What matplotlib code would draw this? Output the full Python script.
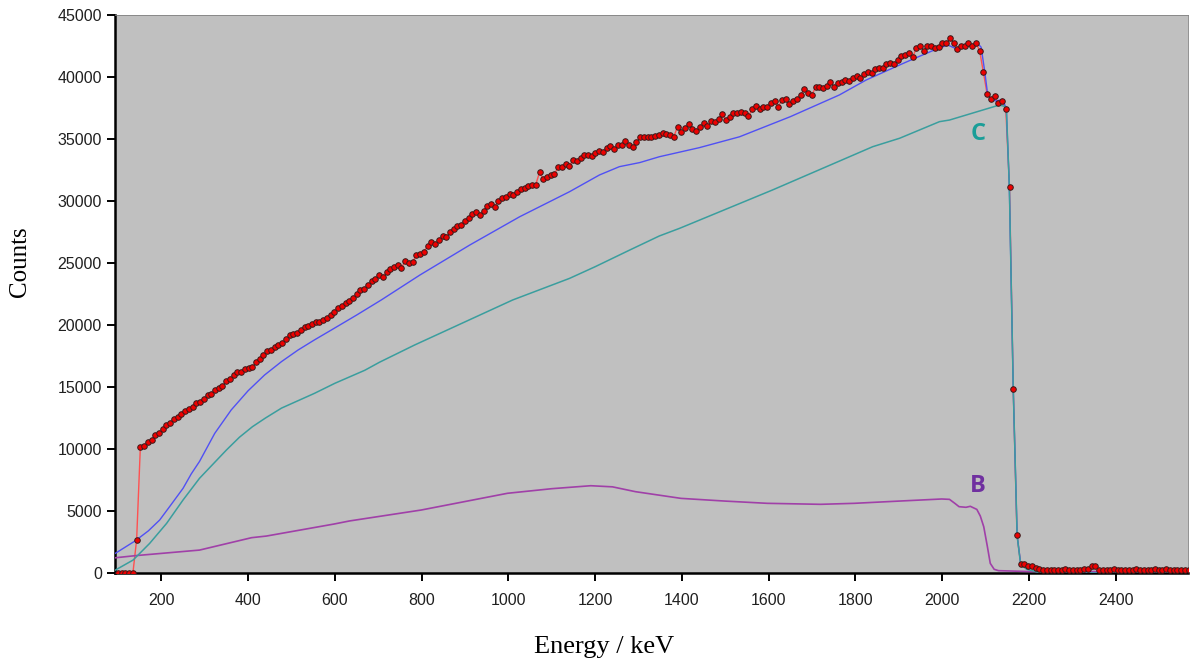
import numpy as np
import matplotlib
matplotlib.use("Agg")
import matplotlib.pyplot as plt

# channel calibration of the measured spectrum (keV)
E0 = 100.0
GAIN = 8.6

# measured counts per channel
counts = [
    0, 0, 0, 0, 0,
    2700, 10200, 10260, 10590, 10760,
    11140, 11310, 11590, 11920, 12100, 12410, 12560, 12830, 13100, 13190,
    13420, 13720, 13790, 14050, 14330, 14420, 14780, 14930, 15120, 15480,
    15650, 15930, 16180, 16210, 16450, 16560, 16610, 17020, 17260, 17600,
    17930, 17950, 18240, 18400, 18560, 18860, 19190, 19310, 19360, 19620,
    19840, 19960, 20110, 20220, 20260, 20440, 20560, 20790, 21050, 21360,
    21500, 21780, 21930, 22160, 22480, 22800, 22930, 23190, 23510, 23700,
    24020, 23880, 24310, 24500, 24690, 24860, 24600, 25180, 24980, 25060,
    25650, 25710, 25900, 26380, 26690, 26500, 26880, 27170, 27120, 27540,
    27740, 27960, 28080, 28400, 28600, 28920, 29100, 28870, 29220, 29600,
    29750, 29520, 30000, 30210, 30320, 30560, 30500, 30740, 30980, 31050,
    31180, 31280, 31330, 32310, 31790, 31930, 32100, 32150, 32750, 32770,
    32990, 32830, 33300, 33200, 33500, 33700, 33710, 33630, 33850, 34070,
    33980, 34250, 34440, 34170, 34520, 34520, 34840, 34520, 34330, 34790,
    35140, 35140, 35140, 35190, 35240, 35320, 35460, 35400, 35300, 35190,
    35990, 35540, 35860, 36190, 35780, 35670, 35940, 36320, 36050, 36480,
    36400, 36590, 36990, 36530, 36800, 37070, 37070, 37200, 37070, 36850,
    37390, 37660, 37390, 37550, 37610, 37930, 38090, 37610, 38150, 38200,
    37820, 38090, 38200, 38550, 39010, 38740, 38550, 39170, 39170, 39090,
    39270, 39620, 39220, 39490, 39620, 39750, 39650, 39880, 40050, 39950,
    40250, 40380, 40310, 40620, 40750, 40690, 41020, 41150, 41080, 41400,
    41690, 41800, 41910, 41590, 42310, 42500, 42120, 42500, 42500, 42310,
    42390, 42770, 42720, 43120, 42720, 42290, 42500, 42500, 42770, 42500,
    42770, 42100, 40380, 38630, 38230, 38470, 37880, 38060, 37420, 31150,
    14840, 3060, 730, 730, 600, 600, 440, 320, 260, 250,
    270, 230, 280, 250, 300, 260, 240, 280, 250, 300,
    330, 540, 530, 280, 230, 270, 250, 290, 240, 260,
    280, 240, 270, 300, 250, 260, 230, 280, 300, 250,
    240, 290, 260, 270, 230, 280, 260, 250,
]

# total fit
fit_e = [94, 140, 170, 196, 220, 250, 269, 288, 323, 361, 400, 438, 477, 515,
         553, 592, 650, 707, 796, 911, 1026, 1141, 1210, 1256, 1303, 1348,
         1440, 1533, 1650, 1763, 1825, 1902, 1932, 1978, 2013, 2036, 2055,
         2082, 2090, 2098, 2105, 2113, 2125, 2139, 2148, 2155, 2164, 2173,
         2181, 2190, 2200, 2215, 2230, 2250, 2300, 2570]
fit_c = [1590, 2600, 3400, 4270, 5400, 6830, 8000, 9000, 11260, 13150, 14700,
         15970, 17050, 17980, 18800, 19600, 20800, 22020, 24030, 26450, 28730,
         30750, 32100, 32770, 33100, 33570, 34300, 35180, 36800, 38550, 39760,
         40970, 41430, 42120, 42580, 42230, 42450, 42720, 42400, 40500, 38600,
         38200, 38060, 38200, 37450, 31150, 14840, 3000, 800, 600, 500, 350,
         150, 60, 20, 20]

# component C
c_e = [94, 135, 173, 212, 250, 288, 350, 380, 410, 440, 477, 553, 600, 669,
       703, 784, 850, 934, 1010, 1141, 1200, 1280, 1348, 1395, 1609, 1840,
       1902, 1994, 2017, 2132, 2148, 2155, 2164, 2173, 2181, 2195, 2220,
       2260, 2570]
c_c = [240, 1050, 2390, 4000, 5890, 7640, 9920, 10950, 11800, 12500, 13300,
       14490, 15300, 16350, 17000, 18390, 19450, 20800, 22020, 23760, 24700,
       26050, 27180, 27800, 30890, 34380, 35060, 36400, 36530, 37740, 37600,
       31150, 14840, 3000, 700, 300, 80, 0, 0]

# component B
b_e = [94, 140, 288, 408, 442, 598, 634, 799, 998, 1100, 1190, 1240, 1293,
       1398, 1500, 1597, 1720, 1797, 1900, 1999, 2017, 2030, 2039, 2055,
       2065, 2080, 2088, 2096, 2104, 2111, 2120, 2130, 2200, 2570]
b_c = [1230, 1400, 1850, 2850, 2980, 3950, 4200, 5080, 6430, 6800, 7040,
       6950, 6560, 6020, 5800, 5620, 5540, 5620, 5800, 5970, 5940, 5600,
       5350, 5300, 5380, 5130, 4600, 3730, 2200, 780, 300, 190, 120, 120]

energy = E0 + GAIN * np.arange(len(counts))

fig = plt.figure(figsize=(11.9, 6.61), dpi=100)
ax = fig.add_axes([0.0966, 0.1331, 0.9014, 0.8442])
ax.set_facecolor("#c0c0c0")

ax.plot(energy, counts, color="#ff5050", lw=1.0, zorder=2)
ax.plot(fit_e, fit_c, color="#5050f4", lw=1.0, zorder=3)
ax.plot(c_e, c_c, color="#3a9e9e", lw=1.1, zorder=4)
ax.plot(b_e, b_c, color="#a040a8", lw=1.2, zorder=3)
ax.plot(energy, counts, ls="none", marker="o", ms=4.0, mfc="#ee0000",
        mec="#3a1a1a", mew=0.7, zorder=5)

ax.text(2083, 35400, "C", color="#1a9e98", fontsize=17, fontweight="bold",
        family="Open Sans", ha="center", va="center")
ax.text(2083, 7050, "B", color="#7030a0", fontsize=17, fontweight="bold",
        family="Open Sans", ha="center", va="center")

ax.set_xlim(93, 2566)
ax.set_ylim(0, 45000)
ax.set_xticks(np.arange(200, 2401, 200))
ax.set_yticks(np.arange(0, 45001, 5000))

for side in ("left", "bottom"):
    ax.spines[side].set_linewidth(1.8)
    ax.spines[side].set_color("black")
for side in ("top", "right"):
    ax.spines[side].set_linewidth(0.6)
    ax.spines[side].set_color("#808080")

ax.tick_params(direction="out", length=5.5, width=1.4, color="black",
               labelsize=11.5)
ax.tick_params(axis="x", pad=9)
ax.tick_params(axis="y", pad=4)
for lab in ax.get_xticklabels() + ax.get_yticklabels():
    lab.set_family("Liberation Sans")
    lab.set_color("#202020")

# axis titles sit slightly off-centre
fig.text(0.508, 0.021, "Energy / keV", family="Liberation Serif", fontsize=19,
         ha="center", va="center")
fig.text(0.0168, 0.6036, "Counts", family="Liberation Serif", fontsize=18,
         rotation=90, ha="center", va="center")

fig.savefig("out.png", dpi=100)
